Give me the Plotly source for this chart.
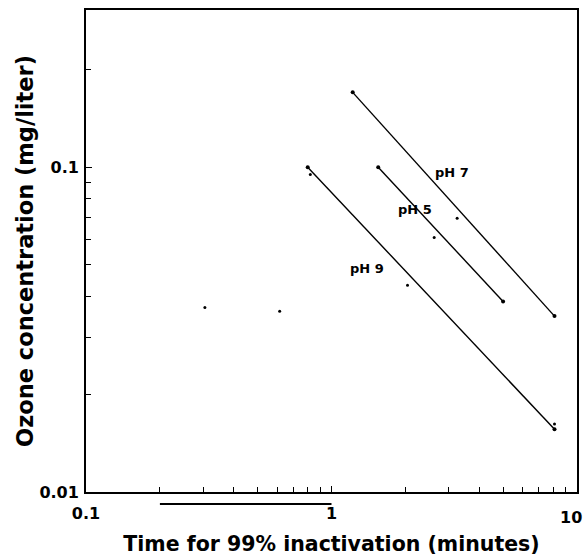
import math
import plotly.graph_objects as go

# Regression lines (endpoints)
ph7_x = [1.22, 8.1]
ph7_y = [0.170, 0.0348]
ph5_x = [1.55, 5.0]
ph5_y = [0.100, 0.0386]
ph9_x = [0.80, 8.1]
ph9_y = [0.100, 0.0156]

# Extra data points
pts_x = [0.82, 3.25, 2.62, 2.04, 0.305, 0.615, 8.1]
pts_y = [0.095, 0.0696, 0.0608, 0.0433, 0.037, 0.036, 0.0162]

labels = ["pH 7", "pH 5", "pH 9"]
label_x = [3.10, 2.18, 1.40]
label_y = [0.0965, 0.0742, 0.0488]

x_tickvals = [0.1, 1, 10]
x_ticktext = ["0.1", "1", "10"]
y_tickvals = [0.01, 0.1]
y_ticktext = ["0.01", "0.1"]
x_minor = [0.2, 0.3, 0.4, 0.5, 0.6, 0.7, 0.8, 0.9, 2, 3, 4, 5, 6, 7, 8, 9]
y_minor = [0.02, 0.03, 0.04, 0.05, 0.06, 0.07, 0.08, 0.09, 0.2]

FONT = "DejaVu Sans"

fig = go.Figure()
for xs, ys in [(ph7_x, ph7_y), (ph5_x, ph5_y), (ph9_x, ph9_y)]:
    fig.add_trace(go.Scatter(x=xs, y=ys, mode="lines+markers",
                             line=dict(color="black", width=1.4),
                             marker=dict(color="black", size=4),
                             showlegend=False))
fig.add_trace(go.Scatter(x=pts_x, y=pts_y, mode="markers",
                         marker=dict(color="black", size=3),
                         showlegend=False))

for t, lx, ly in zip(labels, label_x, label_y):
    fig.add_annotation(x=math.log10(lx), y=math.log10(ly), xref="x", yref="y", text=t,
                       showarrow=False,
                       font=dict(family=FONT, size=13, color="black", weight="bold"))

# scan artefact line below x axis
fig.add_shape(type="line", xref="x", yref="paper", x0=0.2, x1=1.0, y0=-0.025, y1=-0.025,
              line=dict(color="black", width=2))

axis_font = dict(family=FONT, size=16, color="black", weight="bold")

# last x tick label placed as an annotation so it stays inside the page
fig.add_annotation(x=1, y=0, xref="paper", yref="paper", text=x_ticktext[-1],
                   showarrow=False, xanchor="right", yanchor="middle", xshift=7, yshift=-25,
                   font=axis_font)

fig.update_xaxes(type="log", range=[-1, 1.0001], tickvals=x_tickvals,
                 ticktext=x_ticktext[:-1] + [""],
                 ticks="inside", ticklen=6, tickcolor="black", showline=True, linecolor="black",
                 linewidth=1.8, mirror=True, showgrid=False, zeroline=False,
                 tickfont=axis_font, ticklabelstandoff=6,
                 automargin=False,
                 minor=dict(tickvals=x_minor, ticks="inside", ticklen=5, tickcolor="black"),
                 title=dict(text="Time for 99% inactivation (minutes)",
                            font=dict(family=FONT, size=20.5, color="black", weight="bold"),
                            standoff=15))
fig.update_yaxes(type="log", range=[-2, -0.516], tickvals=y_tickvals, ticktext=y_ticktext,
                 ticks="inside", ticklen=6, tickcolor="black", showline=True, linecolor="black",
                 linewidth=1.8, mirror=True, showgrid=False, zeroline=False,
                 tickfont=axis_font, ticklabelstandoff=2, automargin=False,
                 minor=dict(tickvals=y_minor, ticks="inside", ticklen=5, tickcolor="black"),
                 title=dict(text="Ozone concentration (mg/liter)",
                            font=dict(family=FONT, size=22.5, color="black", weight="bold"),
                            standoff=0))

fig.update_layout(width=585, height=558, margin=dict(l=86, r=8, t=10, b=66),
                  paper_bgcolor="white", plot_bgcolor="white")
fig.write_html("out.html")
